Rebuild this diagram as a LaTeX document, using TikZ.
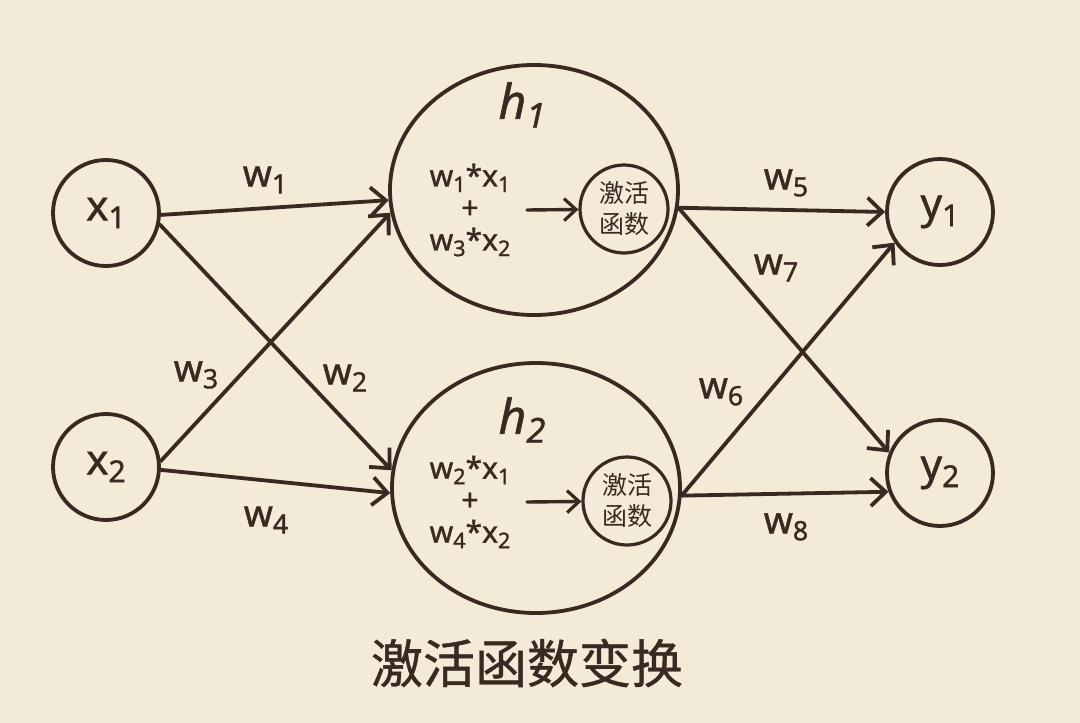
\documentclass[tikz,border=0pt]{standalone}
\usepackage{fontspec}
\setmainfont{Noto Sans}[FakeBold=1.2,AutoFakeBold=1.2]
\newfontfamily\cjk{Noto Sans CJK SC}[FakeBold=0.8]
\newfontfamily\cjkthin{Noto Sans CJK SC}
\usetikzlibrary{arrows.meta,shapes.geometric}
\definecolor{paper}{HTML}{F3EAD7}
\definecolor{ink}{HTML}{3A2822}
\newcommand\sbx[1]{\raisebox{-0.35ex}{\scalebox{0.72}{#1}}}
\tikzset{
  every node/.style={text=ink},
  neuron/.style={circle,draw=ink,line width=3.8pt,minimum size=106pt,inner sep=0pt,font=\fontsize{42}{44}\selectfont},
  hidden/.style={ellipse,draw=ink,line width=3.8pt,minimum width=288pt,minimum height=250pt,inner sep=0pt},
  act/.style={circle,draw=ink,line width=3.2pt,minimum size=88pt,inner sep=0pt,align=center,font=\cjkthin\fontsize{25}{31}\selectfont},
  wlab/.style={font=\fontsize{37}{38}\selectfont},
  hlab/.style={font=\itshape\fontsize{48}{50}\selectfont},
  sumtxt/.style={align=center,font=\fontsize{30}{32}\selectfont},
  link/.style={draw=ink,line width=3.8pt,line cap=round,-{Straight Barb[length=15pt,width=28pt,line width=3.8pt]}},
  small link/.style={draw=ink,line width=3.4pt,line cap=round,-{Straight Barb[length=12pt,width=22pt,line width=3.2pt]}},
}
\begin{document}
\begin{tikzpicture}[x=1pt,y=-1pt]
\fill[paper] (0,0) rectangle (1080,723);
\useasboundingbox (0,0) rectangle (1080,723);

\node[neuron] (x1) at (106,213) {x\sbx{1}};
\node[neuron] (x2) at (106,467) {x\sbx{2}};
\node[neuron] (y1) at (940,212) {y\sbx{1}};
\node[neuron] (y2) at (940,473) {y\sbx{2}};

\node[hidden] (h1) at (534,190) {};
\node[hidden] (h2) at (536,488) {};

\node[hlab] (h1l) at (522,105) {h\sbx{1}};
\node[hlab] (h2l) at (522,420) {h\sbx{2}};

\node[act] (a1) at (624,209) {激活\\函数};
\node[act] (a2) at (627,501) {激活\\函数};

\node[sumtxt] (s1t) at (470,210) {w\sbx{1}*x\sbx{1}\\+\\w\sbx{3}*x\sbx{2}};
\node[sumtxt] (s2t) at (470,502) {w\sbx{2}*x\sbx{1}\\+\\w\sbx{4}*x\sbx{2}};

\coordinate (c1) at (527,210);
\coordinate (c2) at (527,502);
\draw[small link] (c1) -- (a1);
\draw[small link] (c2) -- (a2);

\draw[link] (x1.-2) -- (h1.184);
\draw[link] (x1.-12) -- (h2.173);
\draw[link] (x2.6) -- (h1.189);
\draw[link] (x2.-3) -- (h2.182);
\draw[link] (h1.-7) -- (y1.180);
\draw[link] (h1.-7) -- (y2.158);
\draw[link] (h2.-3) -- (y1.214);
\draw[link] (h2.-3) -- (y2.200);

\node[wlab] (w1) at (265,180) {w\sbx{1}};
\node[wlab] (w2) at (345,378) {w\sbx{2}};
\node[wlab] (w3) at (196,375) {w\sbx{3}};
\node[wlab] (w4) at (266,520) {w\sbx{4}};
\node[wlab] (w5) at (786,183) {w\sbx{5}};
\node[wlab] (w6) at (721,392) {w\sbx{6}};
\node[wlab] (w7) at (776,268) {w\sbx{7}};
\node[wlab] (w8) at (786,527) {w\sbx{8}};

\node[font=\cjk\fontsize{52}{54}\selectfont] (title) at (527,663) {激活函数变换};
\end{tikzpicture}
\end{document}
